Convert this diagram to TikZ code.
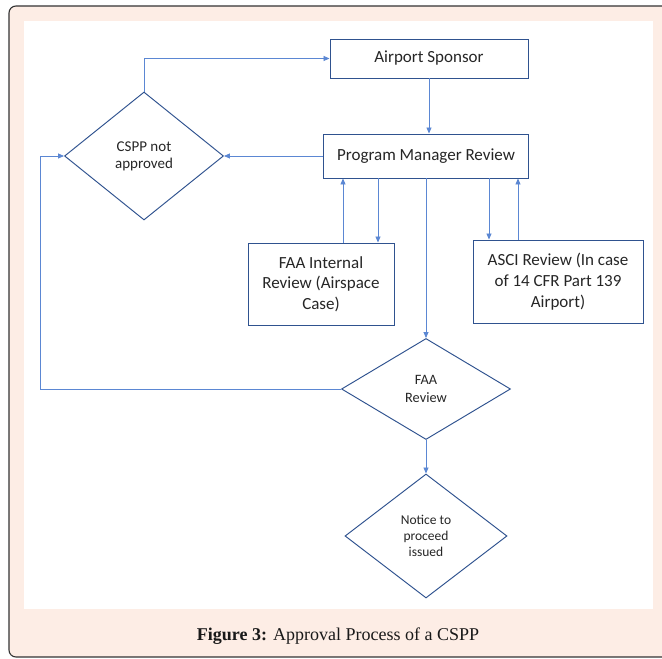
\documentclass[tikz,border=0pt]{standalone}
\usepackage{fontspec}
\setmainfont{Liberation Serif}
\newfontfamily\flowfont{Carlito}
\usetikzlibrary{shapes.geometric,arrows.meta}
\definecolor{boxline}{HTML}{2F528F}
\definecolor{linkline}{HTML}{5B87D3}
\definecolor{framefill}{HTML}{FDEDE5}
\definecolor{textgray}{HTML}{262626}
\begin{document}
\begin{tikzpicture}[x=1pt,y=1pt,
  box/.style={draw=boxline,line width=0.95pt,fill=white,align=center,text=textgray,
    font=\flowfont\fontsize{17}{20.7}\selectfont},
  decision/.style={diamond,draw=boxline,line width=0.95pt,inner sep=0pt,align=center,text=textgray},
  link/.style={draw=linkline,line width=0.8pt,-{Triangle[length=6pt,width=5pt]}}]
\useasboundingbox (0,0) rectangle (662,659);
\begin{scope}
\clip (0,0) rectangle (662,659);
\draw[draw=black!80,fill=framefill,line width=1.1pt,rounded corners=7pt] (9,2) rectangle (680,653);
\end{scope}
\fill[white] (24,50) rectangle (653,638);
\node[box,minimum width=198,minimum height=39] (AS) at (429,600.5) {Airport Sponsor};
\node[box,minimum width=205,minimum height=44] (PMR) at (426,503) {Program Manager Review};
\node[decision,minimum width=159,minimum height=128,font=\flowfont\fontsize{15}{17.3}\selectfont] (CSPP) at (144,503) {CSPP not\\approved};
\node[box,minimum width=146,minimum height=82] (FI) at (321,375) {FAA Internal\\Review (Airspace\\Case)};
\node[box,minimum width=170,minimum height=83] (ASCI) at (558,377.5) {ASCI Review (In case\\of 14 CFR Part 139\\Airport)};
\node[decision,minimum width=169,minimum height=101,font=\flowfont\fontsize{14.3}{17.7}\selectfont] (FR) at (426,270) {FAA\\Review};
\node[decision,minimum width=162,minimum height=124,font=\flowfont\fontsize{13.5}{15.7}\selectfont] (NP) at (426,123) {Notice to\\proceed\\issued};
\node[text=black!90] (cap) at (338,23) {\fontsize{18}{21}\selectfont\textbf{Figure 3:} Approval Process of a CSPP};
% connectors
\coordinate (back) at (40,503);
\coordinate (fiup) at ([xshift=22]FI.north);
\coordinate (fidown) at ([xshift=57]FI.north);
\coordinate (ascidown) at ([xshift=-69]ASCI.north);
\coordinate (asciup) at ([xshift=-40]ASCI.north);
\draw[link] (AS.south) -- (AS.south |- PMR.north);
\draw[link] (CSPP.north) |- (AS.west);
\draw[link] (PMR.west) -- (CSPP.east);
\draw[link] (FR.west) -| (back) -- (CSPP.west);
\draw[link] (PMR.south) -- (FR.north);
\draw[link] (FR.south) -- (NP.north);
\draw[link] (fiup) -- (fiup |- PMR.south);
\draw[link] (fidown |- PMR.south) -- (fidown);
\draw[link] (ascidown |- PMR.south) -- (ascidown);
\draw[link] (asciup) -- (asciup |- PMR.south);
\end{tikzpicture}
\end{document}
